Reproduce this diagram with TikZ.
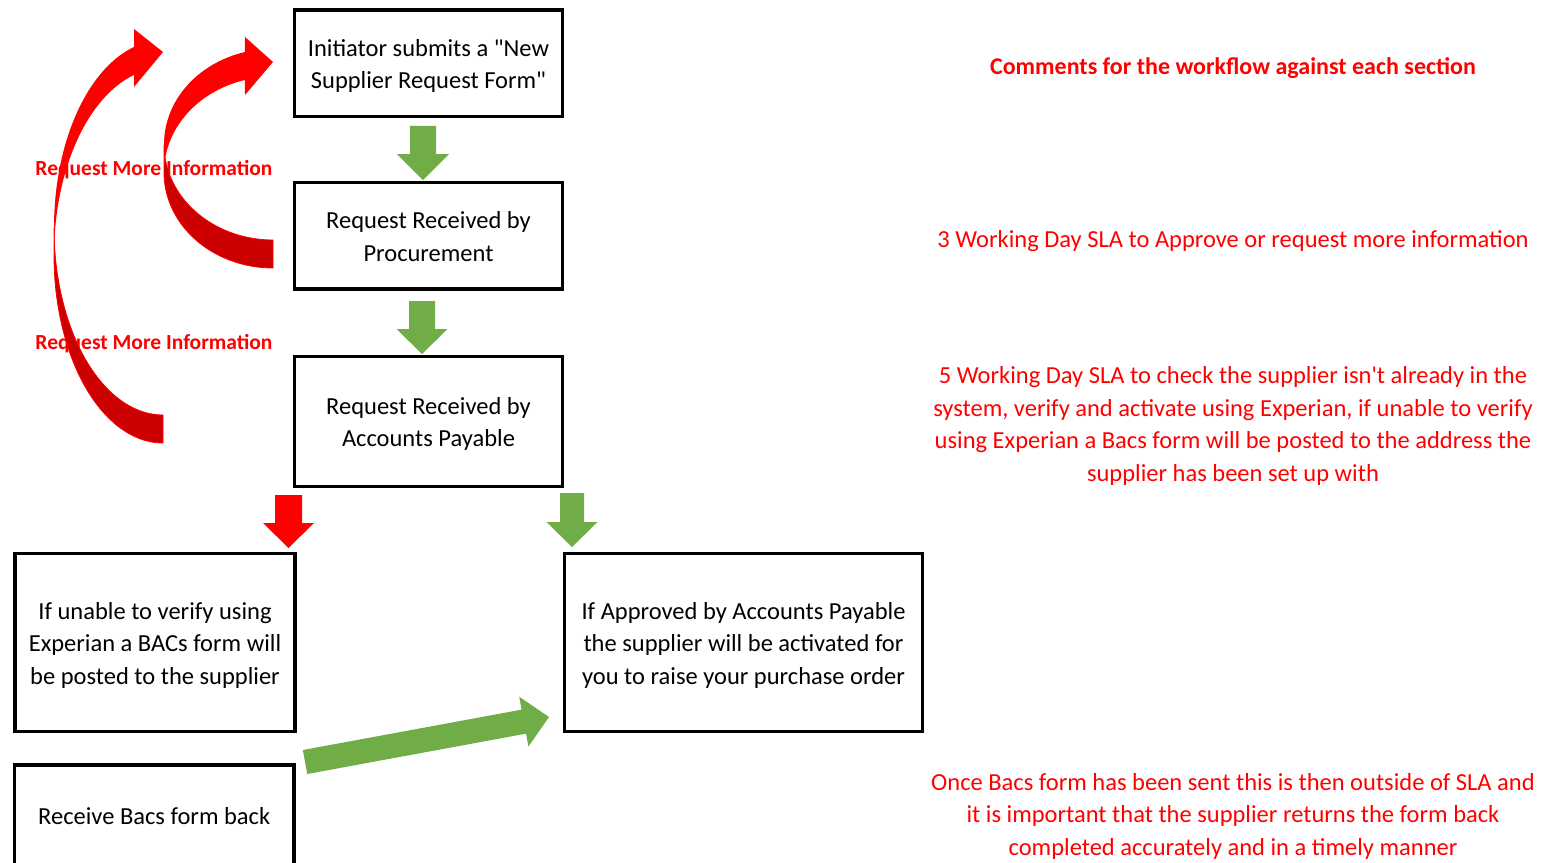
\documentclass[tikz,border=0pt]{standalone}
\usepackage{fontspec}
\setmainfont{Carlito}
\newfontfamily\calib{Carlito}
\usetikzlibrary{calc}
\definecolor{xlgreen}{RGB}{112,173,71}
\definecolor{xlred}{RGB}{255,0,0}
\definecolor{xldark}{RGB}{204,0,0}
\newcommand{\boxfont}{\calib\fontsize{24.5}{32.5}\selectfont}
\newcommand{\lblfont}{\calib\bfseries\fontsize{21.5}{26}\selectfont}
\newcommand{\ls}{\rule[-7pt]{0pt}{32pt}}
% block arrow: colour, start, tip, half shaft, half head, head length
\newcommand{\blockarrow}[6]{%
  \coordinate (tmphb) at ($(#3)!#6!(#2)$);
  \fill[#1] ($(#2)!#4!90:(#3)$) -- ($(tmphb)!#4!-90:(#2)$) -- ($(tmphb)!#5!-90:(#2)$)
    -- (#3) -- ($(tmphb)!#5!90:(#2)$) -- ($(tmphb)!#4!90:(#2)$) -- ($(#2)!#4!-90:(#3)$) -- cycle;
}
\tikzset{
  flowbox/.style={draw=black, line width=3.3pt, inner sep=0pt, outer sep=0pt, align=center, font=\boxfont},
  comment/.style={text=xlred, align=center, font=\boxfont, inner sep=0pt},
  rmilabel/.style={text=xlred, font=\lblfont, inner sep=0pt},
  backband/.style={fill=xldark, draw=xlred, line width=0.8pt},
  frontband/.style={fill=xlred}
}
\begin{document}
\begin{tikzpicture}[x=1pt,y=-1pt]
\useasboundingbox (0,0) rectangle (1541,862);
\clip (0,0) rectangle (1541,862);
\fill[white] (0,0) rectangle (1541,862);

% boxes
\node[flowbox, minimum width=268.4, minimum height=106.7] (b1) at (428.5,63.3) {\ls Initiator submits a "New\\\ls Supplier Request Form"};
\node[flowbox, minimum width=268.4, minimum height=106.3] (b2) at (428.5,235.9) {\ls Request Received by\\\ls Procurement};
\node[flowbox, minimum width=268.4, minimum height=130] (b3) at (428.5,421.7) {\ls Request Received by\\\ls Accounts Payable};
\node[flowbox, minimum width=280, minimum height=178.4] (b4) at (155,642.5) {\ls If unable to verify using\\Experian a BACs form will\\\ls be posted to the supplier};
\node[flowbox, minimum width=358.4, minimum height=178.4] (b5) at (743.5,642.5) {\ls If Approved by Accounts Payable\\the supplier will be activated for\\\ls you to raise your purchase order};
\node[flowbox, minimum width=279.7, minimum height=100] (b6) at (154.2,815) {\ls Receive Bacs form back};

% comments
\node[comment, font=\calib\bfseries\fontsize{24}{32.5}\selectfont] (c0) at (1233,65) {\ls Comments for the workflow against each section};
\node[comment] (c1) at (1233,238) {\ls 3 Working Day SLA to Approve or request more information};
\node[comment] (c2) at (1233,423.5) {\ls 5 Working Day SLA to check the supplier isn't already in the\\system, verify and activate using Experian, if unable to verify\\using Experian a Bacs form will be posted to the address the\\\ls supplier has been set up with};
\node[comment] (c3) at (1233,813.7) {\ls Once Bacs form has been sent this is then outside of SLA and\\it is important that the supplier returns the form back\\\ls completed accurately and in a timely manner};

% labels
\node[rmilabel] (l1) at (154,170) {Request More Information};
\node[rmilabel] (l2) at (154,344) {Request More Information};

% straight block arrows
\coordinate (a1s) at ([shift={(-5.5,9.3)}]b1.south);
\coordinate (a1e) at ([shift={(-5.5,-2.7)}]b2.north);
\blockarrow{xlgreen}{a1s}{a1e}{13pt}{26pt}{26pt}
\coordinate (a2s) at ([shift={(-6.5,12)}]b2.south);
\coordinate (a2e) at ([shift={(-6.5,-2.7)}]b3.north);
\blockarrow{xlgreen}{a2s}{a2e}{13pt}{25.5pt}{25pt}
\coordinate (a3s) at ([shift={(-5.8,8.3)}]b3.south west);
\coordinate (a3e) at ([shift={(-6.5,-5.3)}]b4.north east);
\blockarrow{xlred}{a3s}{a3e}{13.5pt}{25.5pt}{25pt}
\coordinate (a4s) at ([shift={(9.3,6.3)}]b3.south east);
\coordinate (a4e) at ([shift={(7.7,-6.3)}]b5.north west);
\blockarrow{xlgreen}{a4s}{a4e}{12pt}{25.5pt}{25pt}
\coordinate (a5s) at ([shift={(11,-3)}]b6.north east);
\coordinate (a5e) at ([shift={(-15.3,-14.7)}]b5.south west);
\blockarrow{xlgreen}{a5s}{a5e}{12.2pt}{25.3pt}{25.6pt}

% large curved arrow (Accounts Payable -> Initiator)
\path[backband] plot[domain=180:90, samples=50] ({163+109*cos(\x)},{227.6+187.4*sin(\x)})
  -- plot[domain=90:180, samples=50] ({163+109*cos(\x)},{255.6+187.4*sin(\x)}) -- cycle;
\path[frontband] plot[domain=180:254.6, samples=50] ({163+109*cos(\x)},{227.6+187.4*sin(\x)})
  -- (134,29) -- (163,52) -- (134,87)
  -- plot[domain=254.6:180, samples=50] ({163+109*cos(\x)},{255.6+187.4*sin(\x)}) -- cycle;

% small curved arrow (Procurement -> Initiator)
\path[backband] plot[domain=180:90, samples=50] ({273+109*cos(\x)},{144.4+95.6*sin(\x)})
  -- plot[domain=90:180, samples=50] ({273+109*cos(\x)},{172.4+95.6*sin(\x)}) -- cycle;
\path[frontband] plot[domain=180:255.1, samples=50] ({273+109*cos(\x)},{144.4+95.6*sin(\x)})
  -- (245,37) -- (273,62) -- (245,95)
  -- plot[domain=255.1:180, samples=50] ({273+109*cos(\x)},{172.4+95.6*sin(\x)}) -- cycle;
\end{tikzpicture}
\end{document}
